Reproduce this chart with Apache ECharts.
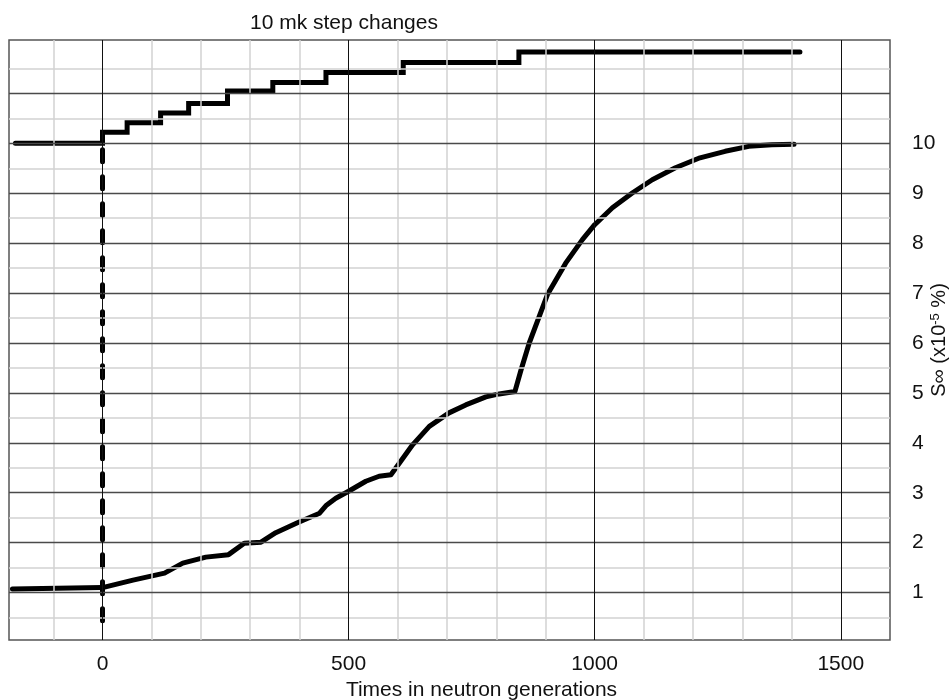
<!DOCTYPE html>
<html>
<head>
<meta charset="utf-8">
<script src="https://cdn.jsdelivr.net/npm/echarts@6/dist/echarts.min.js"></script>
<style>
  html, body { margin: 0; padding: 0; background: #fff; }
  #chart { width: 952px; height: 700px; }
</style>
</head>
<body>
<div id="chart"></div>
<script>
// ---- axis extents and tick labels ----
const X_MIN = -190, X_MAX = 1600;
const Y_MIN = 0.05, Y_MAX = 12.07;
const X_LABELS = [0, 500, 1000, 1500];
const Y_LABELS = [1, 2, 3, 4, 5, 6, 7, 8, 9, 10];

// grid lines (values on the axes)
const X_GRID_MAJOR = [0, 500, 1000, 1500];
const X_GRID_MINOR = [-100, 100, 200, 300, 400, 600, 700, 800, 900, 1100, 1200, 1300, 1400];
const Y_GRID_MAJOR = [1, 2, 3, 4, 5, 6, 7, 8, 9, 10, 11];
const Y_GRID_MINOR = [0.5, 1.5, 2.5, 3.5, 4.5, 5.5, 6.5, 7.5, 8.5, 9.5, 10.5, 11.5];

// ---- 10 mk step changes (upper staircase) ----
const STEP_X = [-177, 0, 50, 118, 175, 254, 346, 454, 611, 846, 1417];
const STEP_Y = [10, 10.22, 10.41, 10.61, 10.80, 11.05, 11.22, 11.42, 11.62, 11.83, 11.83];

// ---- S-infinity response curve ----
const CURVE_X = [-183, 0, 62, 126, 163, 210, 256, 288, 322, 352, 396, 441, 455, 474, 500, 535, 562, 586,
                 603, 630, 664, 704, 738, 779, 806, 838, 850, 867, 904, 941, 975, 1000, 1036, 1077,
                 1117, 1164, 1214, 1265, 1313, 1360, 1405];
const CURVE_Y = [1.07, 1.10, 1.25, 1.39, 1.59, 1.71, 1.76, 1.99, 2.01, 2.20, 2.40, 2.59, 2.75, 2.89, 3.03, 3.23, 3.33, 3.36,
                 3.59, 3.96, 4.33, 4.60, 4.76, 4.92, 4.98, 5.03, 5.45, 6.00, 6.97, 7.60, 8.07, 8.37, 8.71, 9.01,
                 9.27, 9.51, 9.71, 9.84, 9.94, 9.97, 9.98];

// ---- dashed marker at t = 0 ----
const DASH_X = [0, 0];
const DASH_Y = [9.87, 0.19];

const FONT = '"Liberation Sans", Arial, sans-serif';
const zip = (xs, ys) => xs.map((x, i) => [x, ys[i]]);

const gridLines = [].concat(
  X_GRID_MINOR.map(v => ({ xAxis: v, lineStyle: { color: '#d2d2d2', width: 1.5, type: 'solid' } })),
  Y_GRID_MINOR.map(v => ({ yAxis: v, lineStyle: { color: '#d2d2d2', width: 1.5, type: 'solid' } })),
  Y_GRID_MAJOR.map(v => ({ yAxis: v, lineStyle: { color: '#4a4a4a', width: 1.3, type: 'solid' } })),
  X_GRID_MAJOR.map(v => ({ xAxis: v, lineStyle: { color: '#111', width: 1, type: 'solid' } }))
);

const chart = echarts.init(document.getElementById('chart'), null, { renderer: 'canvas' });
chart.setOption({
  animation: false,
  backgroundColor: '#fff',
  textStyle: { fontFamily: FONT },
  title: {
    text: '10 mk step changes',
    left: 245, top: 8,
    textStyle: { fontSize: 21, fontWeight: 'normal', color: '#111', fontFamily: FONT }
  },
  grid: {
    left: 9, right: 62, top: 40, bottom: 60,
    containLabel: false, outerBoundsMode: 'none',
    show: true, borderColor: '#555', borderWidth: 1.5, backgroundColor: 'transparent'
  },
  xAxis: {
    type: 'value', min: X_MIN, max: X_MAX, splitNumber: 4,
    axisLine: { show: false }, axisTick: { show: false }, splitLine: { show: false },
    axisLabel: {
      margin: 14, fontSize: 21, color: '#111', fontFamily: FONT,
      formatter: v => X_LABELS.indexOf(v) >= 0 ? String(v) : ''
    },
    name: 'Times in neutron generations',
    nameLocation: 'middle', nameGap: 40, nameMoveOverlap: false,
    nameTextStyle: { fontSize: 21, color: '#111', fontFamily: FONT, padding: [0, 0, 0, 64] }
  },
  yAxis: {
    type: 'value', position: 'right', min: Y_MIN, max: Y_MAX, splitNumber: 12,
    axisLine: { show: false }, axisTick: { show: false }, splitLine: { show: false },
    axisLabel: {
      margin: 22, fontSize: 21, color: '#111', fontFamily: FONT, align: 'left',
      padding: [6, 0, 0, 0],
      formatter: v => Y_LABELS.indexOf(v) >= 0 ? String(v) : ''
    },
    name: 'S∞ (x10{sup|-5} %)',
    nameLocation: 'middle', nameRotate: 90, nameGap: 39, nameMoveOverlap: false,
    nameTextStyle: {
      fontSize: 20, color: '#111', fontFamily: FONT,
      rich: { sup: { fontSize: 13, verticalAlign: 'top', color: '#111', fontFamily: FONT } }
    }
  },
  series: [
    {
      type: 'line', data: [], z: 1, silent: true,
      markLine: { silent: true, symbol: 'none', label: { show: false }, animation: false, data: gridLines }
    },
    {
      name: 'dash', type: 'line', z: 3, data: zip(DASH_X, DASH_Y), showSymbol: false, silent: true,
      lineStyle: { color: '#000', width: 5, type: [12, 15], cap: 'round' }
    },
    {
      name: 'steps', type: 'line', z: 4, step: 'end', data: zip(STEP_X, STEP_Y), showSymbol: false, silent: true,
      lineStyle: { color: '#000', width: 5, cap: 'round', join: 'miter' }
    },
    {
      name: 'S∞', type: 'line', z: 4, data: zip(CURVE_X, CURVE_Y), showSymbol: false, silent: true,
      lineStyle: { color: '#000', width: 5, cap: 'round', join: 'round' }
    }
  ]
});
</script>
</body>
</html>
